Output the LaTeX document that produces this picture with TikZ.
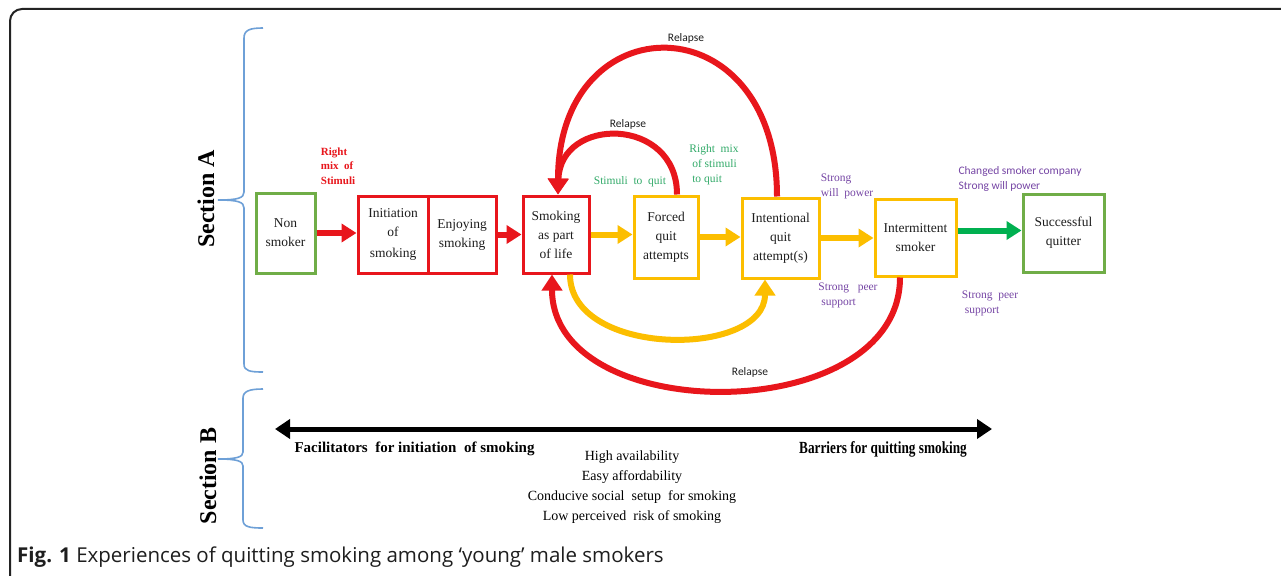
\documentclass[tikz,border=0pt]{standalone}
\usepackage{fontspec}
\setmainfont{Liberation Serif}
\newfontfamily\calib{Carlito}
\newfontfamily\capfont{Open Sans}
\usetikzlibrary{arrows.meta}
\definecolor{myred}{RGB}{232,22,28}
\definecolor{myyel}{RGB}{252,190,0}
\definecolor{boxgreen}{RGB}{112,173,71}
\definecolor{arrgreen}{RGB}{0,176,80}
\definecolor{txtgreen}{RGB}{50,170,105}
\definecolor{txtpurple}{RGB}{118,70,165}
\definecolor{braceblue}{RGB}{110,160,215}
\definecolor{framegray}{RGB}{35,35,35}
\definecolor{boxtext}{RGB}{30,30,30}
\begin{document}
\begin{tikzpicture}[x=1pt,y=-1pt,
  box/.style={draw, line width=3pt, align=center, inner sep=0pt, text=boxtext,
    font=\fontsize{13.5}{19}\selectfont},
  redbox/.style={box, draw=myred},
  yelbox/.style={box, draw=myyel},
  grnbox/.style={box, draw=boxgreen},
  flow/.style={line width=6pt, -{Triangle[width=18pt,length=15pt]}},
  curve/.style={line width=6pt, -{Triangle[width=20pt,length=16pt]}},
  smalllab/.style={font=\fontsize{11.5}{15}\selectfont, align=left, inner sep=0pt},
  relapse/.style={font=\calib\fontsize{11.5}{14}\selectfont, text=boxtext, inner sep=0pt},
  brace/.style={draw=braceblue, line width=1.6pt},
  section/.style={font=\fontsize{24}{24}\selectfont\bfseries, rotate=90, inner sep=0pt},
  listtext/.style={font=\fontsize{14}{20}\selectfont, align=center, inner sep=0pt},
  axislab/.style={font=\fontsize{15}{18}\selectfont\bfseries, inner sep=0pt}
]
\useasboundingbox (0,0) rectangle (1281,575);
\fill[white] (0,0) rectangle (1281,575);

% frame
\draw[framegray, line width=2pt, rounded corners=12pt] (10,585) -- (10,9) -- (1295,9);

% braces
\draw[brace] (263,28) .. controls (250,28) and (244,30) .. (244,38) -- (244,192)
  .. controls (244,198) and (238,200) .. (218,200)
  .. controls (238,200) and (244,202) .. (244,208) -- (244,364)
  .. controls (244,371) and (250,372) .. (263,372);
\draw[brace] (263,389) .. controls (250,389) and (243,391) .. (243,398) -- (243,452)
  .. controls (243,457) and (237,459) .. (218,459)
  .. controls (237,459) and (243,461) .. (243,466) -- (243,520)
  .. controls (243,527) and (250,528) .. (263,528);
\node[section] (secA) at (206,199) {Section A};
\node[section] (secB) at (208,476) {Section B};

% boxes
\node[grnbox, minimum width=59pt, minimum height=80pt] (non) at (285.5,233) {Non\\smoker};
\node[redbox, minimum width=70pt, minimum height=77pt] (init) at (393,234.5) {Initiation\\of\\[2pt]smoking};
\node[redbox, minimum width=68pt, minimum height=77pt] (enjoy) at (462,234.5) {Enjoying\\smoking};
\node[redbox, minimum width=66pt, minimum height=77pt] (life) at (556,234.5) {Smoking\\as part\\of life};
\node[yelbox, minimum width=64pt, minimum height=82pt] (forced) at (666,237) {Forced\\quit\\attempts};
\node[yelbox, minimum width=77pt, minimum height=80pt] (intent) at (780.5,238) {Intentional\\quit\\attempt(s)};
\node[yelbox, minimum width=81pt, minimum height=77pt] (inter) at (915.5,237.5) {Intermittent\\smoker};
\node[grnbox, minimum width=81pt, minimum height=78pt] (succ) at (1063.5,233) {Successful\\quitter};

% straight arrows
\draw[flow, myred] (non.east) -- (non.east -| init.west);
\draw[flow, myred] (enjoy.east) -- (enjoy.east -| life.west);
\draw[flow, myyel] (life.east) -- (life.east -| forced.west);
\draw[flow, myyel] (forced.east) -- (forced.east -| intent.west);
\draw[flow, myyel] (intent.east) -- (intent.east -| inter.west);
\draw[flow, arrgreen] ([yshift=7pt]inter.east) -- ([yshift=7pt]inter.east -| succ.west);

% curved arrows
\draw[curve, myred] ([xshift=11pt]forced.north) .. controls (677,116) and (560,116) .. ([xshift=2pt]life.north);
\draw[curve, myred] ([xshift=-3.5pt]intent.north) .. controls (777,1) and (558,1) .. ([xshift=2pt]life.north);
\draw[curve, myyel] ([xshift=14pt]life.south) .. controls (570,358) and (765,358) .. ([xshift=-15.5pt]intent.south);
\draw[curve, myred] ([xshift=-15.5pt]inter.south) .. controls (900,428) and (552,428) .. ([xshift=-4pt]life.south);

% relapse labels
\node[relapse] (rel1) at (686,38) {Relapse};
\node[relapse] (rel2) at (628,124) {Relapse};
\node[relapse] (rel3) at (750,372) {Relapse};

% stimulus labels
\node[smalllab, text=myred, font=\fontsize{11}{14.5}\selectfont\bfseries] (rms) at (338,166) {Right\\mix\ \ of\\Stimuli};
\node[smalllab, text=txtgreen] (stq) at (630,182) {Stimuli\ \ to\ \ quit};
\node[smalllab, text=txtgreen] (rmsq) at (714,165) {Right\ \ mix\\\ of stimuli\\\ to quit};
\node[smalllab, text=txtpurple] (swp1) at (847,186) {Strong\\will\ \ power};
\node[smalllab, text=txtpurple] (spp1) at (848,295) {Strong\ \ \ peer\\\ support};
\node[smalllab, text=txtpurple, font=\calib\fontsize{11.5}{15}\selectfont] (csc) at (1020,178.5) {Changed smoker\ company\\Strong\ will power};
\node[smalllab, text=txtpurple] (spp2) at (990,303) {Strong\ \ peer\\\ support};

% section B
\coordinate (fl) at (275,429);
\coordinate (fr) at (992,429);
\draw[line width=5pt, {Triangle[width=19pt,length=15pt]}-{Triangle[width=19pt,length=15pt]}] (fl) -- (fr);
\node[axislab] (fac) at (414.5,449) {Facilitators\ \ for initiation\ \ of smoking};
\node[axislab, xscale=0.78, font=\fontsize{17}{20}\selectfont\bfseries] (bar) at (883,449) {Barriers for quitting smoking};
\node[listtext] (list) at (632,487) {High availability\\Easy affordability\\Conducive social\ \ setup\ \ for smoking\\Low perceived\ \ risk of smoking};

% caption
\node[anchor=west, inner sep=0pt, font=\capfont\fontsize{20.5}{24}\selectfont, text=boxtext] (cap) at (17,557)
  {\textbf{Fig. 1} Experiences of quitting smoking among ‘young’ male smokers};
\end{tikzpicture}
\end{document}
